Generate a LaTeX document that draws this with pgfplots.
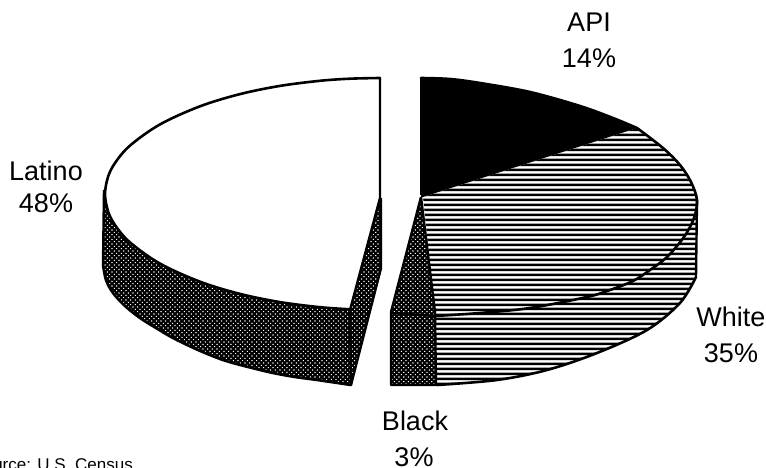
\documentclass[border=0pt]{standalone}
\usepackage{fontspec}
\setmainfont{Liberation Sans}
\usepackage{pgfplots}
\pgfplotsset{compat=1.18}
\usetikzlibrary{patterns.meta}
\tikzdeclarepattern{name=LongHL,type=uncolored,bounding box={(0pt,0pt) and (800pt,4.6pt)},tile size={(800pt,4.6pt)},code={\fill (0pt,1.0pt) rectangle (800pt,3.6pt);}}
\tikzset{
  hl/.style={draw=none,pattern=LongHL,pattern color=black},
  dk/.style={draw=none,fill=black},
  ds/.style={draw=none,pattern={Dots[angle=45,distance=3.3pt,radius=0.8pt]},pattern color=white},
  ln/.style={draw=black,line width=2.4pt,no marks,line join=round},
  cv/.style={draw=black,line width=2.6pt,no marks,smooth,tension=0.55,line cap=round},
  lb/.style={font=\fontsize{27}{27}\selectfont,anchor=base,inner sep=0pt,text=black}
}
\begin{document}
\begin{tikzpicture}
\clip (0,0) rectangle (766pt,468pt);
\begin{axis}[at={(0,0)},anchor=south west,width=766pt,height=468pt,scale only axis,
  xmin=0,xmax=766,ymin=0,ymax=468,y dir=reverse,hide axis,clip=false]
% Latino side
\addplot[dk] coordinates {(104,194)(103,265)(106,280)(113,293)(125,306)(140,318)(156,328)(173,338)(198,350)(223,360)(248,367)(273,373)(295,377)(317,380)(351,385)(382,268)(381,198)(350,309)(320,307)(280,302)(240,294)(200,282)(160,264)(130,242)(115,225)(108,211)} --cycle;
\addplot[ds] coordinates {(104,194)(103,265)(106,280)(113,293)(125,306)(140,318)(156,328)(173,338)(198,350)(223,360)(248,367)(273,373)(295,377)(317,380)(351,385)(382,268)(381,198)(350,309)(320,307)(280,302)(240,294)(200,282)(160,264)(130,242)(115,225)(108,211)} --cycle;
\addplot[ln] coordinates {(350,310)(351,385)};
\addplot[ln] coordinates {(351,385)(381,268)(381,198)};
\addplot[ln] coordinates {(104,190)(103,265)};
\addplot[cv] coordinates {(103,265)(106,280)(113,293)(125,306)(140,318)(156,328)(173,338)(198,350)(223,360)(248,367)(273,373)(295,377)(317,380)(351,385)};
% Latino top
\addplot[draw=none,fill=white] coordinates {(380,78)(350,78.7)(320,80.8)(280,85.9)(240,94.1)(200,106.3)(160,124.4)(130,145.6)(115,163)(108,177)(105,194)(108,211)(115,225)(130,242.4)(160,263.6)(200,281.7)(240,293.9)(280,302.1)(320,307.2)(350,309.3)(380,198)} --cycle;
\addplot[cv] coordinates {(380,78)(350,78.7)(320,80.8)(280,85.9)(240,94.1)(200,106.3)(160,124.4)(130,145.6)(115,163)(108,177)(105,194)(108,211)(115,225)(130,242.4)(160,263.6)(200,281.7)(240,293.9)(280,302.1)(320,307.2)(350,309.3)};
\addplot[ln] coordinates {(350,310)(380,198)(380,78)};
% White side
\addplot[hl] coordinates {(435,316)(480,313)(530,308)(587,297)(610,290)(633,281)(650,270)(667,257)(684,237)(696,215)(696,277)(680,303)(647,330)(597,353)(547,370)(497,380)(437,385)} --cycle;
\addplot[ln] coordinates {(697,200)(696,277)};
\addplot[cv] coordinates {(696,277)(680,303)(647,330)(597,353)(547,370)(497,380)(437,385)};
% White top
\addplot[hl] coordinates {(423,197)(637,128)(663,148)(680,165)(691,182)(697,200)(694,218)(684,237)(667,257)(650,270)(633,281)(610,290)(587,297)(530,308)(480,313)(435,316)} --cycle;
\addplot[cv] coordinates {(637,128)(663,148)(680,165)(691,182)(697,200)(694,218)(684,237)(667,257)(650,270)(633,281)(610,290)(587,297)(530,308)(480,313)(435,316)};
% API
\addplot[dk] coordinates {(421,78)(450,79)(480,83)(530,92)(580,106)(613,118)(637,128)(423,197)(421,197)} --cycle;
\addplot[ln] coordinates {(421,78)(421,195)};
\addplot[cv] coordinates {(421,78)(450,79)(480,83)(530,92)(580,106)(613,118)(637,128)};
% Black top and side
\addplot[dk] coordinates {(421,197)(392,312)(390,385)(436,385)(435,312)} --cycle;
\addplot[ds] coordinates {(421,197)(392,312)(390,385)(436,385)(435,312)} --cycle;
\addplot[ln] coordinates {(421,197)(391,312)(391,385)(436,385)(435,312)(421,197)};
\addplot[ln] coordinates {(391,313)(435,316)};
% Labels
\node[lb] at (axis cs:589,32) {API};
\node[lb] at (axis cs:589,68) {14\%};
\node[lb] at (axis cs:46,181) {Latino};
\node[lb] at (axis cs:46,212) {48\%};
\node[lb] at (axis cs:731,326) {White};
\node[lb] at (axis cs:731,362) {35\%};
\node[lb] at (axis cs:415,430) {Black};
\node[lb] at (axis cs:414,466) {3\%};
\node[font=\fontsize{17}{17}\selectfont,anchor=base east,inner sep=0pt] at (axis cs:133,470) {Source: U.S. Census};
\end{axis}
\end{tikzpicture}
\end{document}
